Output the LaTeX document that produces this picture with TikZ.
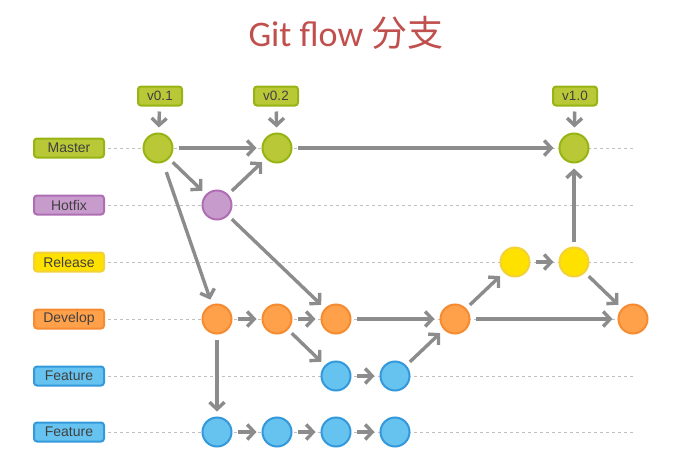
\documentclass[tikz,border=0pt]{standalone}
\usepackage{fontspec}
\setmainfont{Liberation Sans}
\newfontfamily\titlefont{Carlito}
\newfontfamily\cjk{Noto Sans CJK SC}
\usetikzlibrary{arrows.meta}
\definecolor{mfill}{HTML}{B9C837}
\definecolor{mline}{HTML}{98B414}
\definecolor{hfill}{HTML}{C89BCD}
\definecolor{hline}{HTML}{AF6EB4}
\definecolor{rfill}{HTML}{FFE100}
\definecolor{rline}{HTML}{F2D13A}
\definecolor{dfill}{HTML}{FFA04B}
\definecolor{dline}{HTML}{F58C32}
\definecolor{ffill}{HTML}{66C3F0}
\definecolor{fline}{HTML}{3499DA}
\definecolor{arrowgray}{HTML}{8C8C8C}
\definecolor{textgray}{HTML}{404040}
\definecolor{titlered}{HTML}{C0504D}

\begin{document}
\begin{tikzpicture}[x=1pt, y=-1pt,
    lane/.style={fill=#1fill, draw=#1line},
    commit/.style={circle, minimum size=29pt, inner sep=0pt, line width=2pt, lane=#1},
    namebox/.style={rectangle, rounded corners=3pt, minimum width=70pt, minimum height=19pt,
      inner sep=0pt, line width=2pt, lane=#1, text=textgray, font=\fontsize{14}{15}\selectfont},
    tagbox/.style={namebox=#1, minimum width=44pt, font=\fontsize{13.5}{15}\selectfont},
    guide/.style={draw=gray!50, line width=0.8pt, dash pattern=on 3pt off 3pt},
    flow/.style={draw=arrowgray, line width=3.4pt, -{Straight Barb[length=7pt,width=15pt]},
      shorten <=5pt, shorten >=5pt}]
  \useasboundingbox (0,0) rectangle (681,461);

  \node[text=titlered, font=\titlefont\fontsize{36}{40}\selectfont] (title) at (346,33) {Git flow {\cjk 分支}};

  % lanes
  \foreach \y/\lab/\c [count=\i] in {148/Master/m, 205/Hotfix/h, 262/Release/r, 319/Develop/d, 376/Feature/f, 432/Feature/f} {
    \draw[guide] (108,\y) -- (635,\y);
    \node[namebox=\c] (lane\i) at (69,\y) {\lab};
  }

  % commits
  \node[commit=m] (m1) at (158,148) {};
  \node[commit=m] (m2) at (277,148) {};
  \node[commit=m] (m3) at (574,148) {};
  \node[commit=h] (h1) at (217,205) {};
  \node[commit=r] (r1) at (515,262) {};
  \node[commit=r] (r2) at (574,262) {};
  \node[commit=d] (d1) at (217,319) {};
  \node[commit=d] (d2) at (277,319) {};
  \node[commit=d] (d3) at (336,319) {};
  \node[commit=d] (d4) at (455,319) {};
  \node[commit=d] (d5) at (633,319) {};
  \node[commit=f] (fa1) at (336,376) {};
  \node[commit=f] (fa2) at (395,376) {};
  \node[commit=f] (fb1) at (217,432) {};
  \node[commit=f] (fb2) at (277,432) {};
  \node[commit=f] (fb3) at (336,432) {};
  \node[commit=f] (fb4) at (395,432) {};

  % tags
  \node[tagbox=m] (t1) at (160,96) {v0.1};
  \node[tagbox=m] (t2) at (276,96) {v0.2};
  \node[tagbox=m] (t3) at (575,96) {v1.0};

  \draw[flow] (t1) -- (m1);
  \draw[flow] (t2) -- (m2);
  \draw[flow] (t3) -- (m3);
  \draw[flow] (m1) -- (m2);
  \draw[flow] (m1) -- (h1);
  \draw[flow] (h1) -- (m2);
  \draw[flow] (m2) -- (m3);
  \draw[flow, shorten <=10pt] (m1) -- (d1);
  \draw[flow] (h1) -- (d3);
  \draw[flow] (d1) -- (d2);
  \draw[flow] (d2) -- (d3);
  \draw[flow] (d1) -- (fb1);
  \draw[flow] (d2) -- (fa1);
  \draw[flow] (d3) -- (d4);
  \draw[flow] (fa1) -- (fa2);
  \draw[flow] (fa2) -- (d4);
  \draw[flow] (d4) -- (r1);
  \draw[flow] (r1) -- (r2);
  \draw[flow] (r2) -- (m3);
  \draw[flow] (r2) -- (d5);
  \draw[flow] (d4) -- (d5);
  \draw[flow] (fb1) -- (fb2);
  \draw[flow] (fb2) -- (fb3);
  \draw[flow] (fb3) -- (fb4);
\end{tikzpicture}
\end{document}
